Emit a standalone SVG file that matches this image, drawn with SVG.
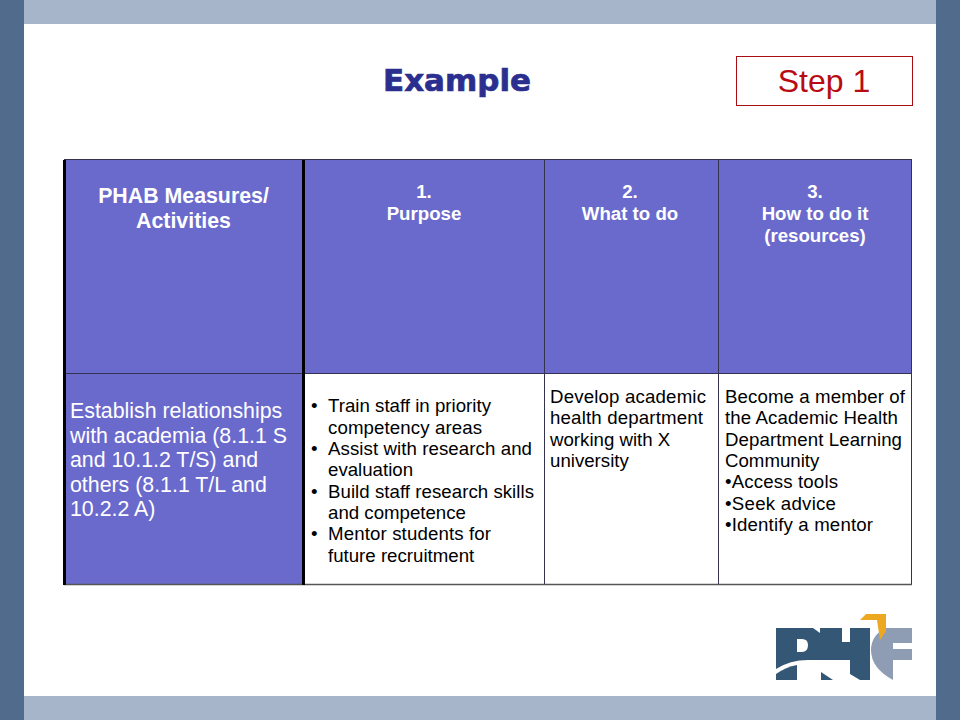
<svg xmlns="http://www.w3.org/2000/svg" width="960" height="720" viewBox="0 0 960 720">
<style>
text{font-family:"Liberation Sans",Arial,sans-serif}
.h{fill:#fff;font-weight:700;font-size:18.67px;text-anchor:middle}
.hl{font-size:21.33px}
.b{fill:#000;font-size:18.67px}
.s{fill:#fff;font-size:21.33px}
.g{stroke:#33334f;stroke-width:1;fill:none}
</style>
<rect width="960" height="720" fill="#fff"/>
<rect x="24" width="912" height="24" fill="#a6b5ca"/>
<rect x="24" y="696" width="912" height="24" fill="#a6b5ca"/>
<rect width="24" height="720" fill="#516b8c"/>
<rect x="936" width="24" height="720" fill="#516b8c"/>
<text x="383" y="90.500" textLength="148" lengthAdjust="spacingAndGlyphs" stroke="#2a2f8f" stroke-width="0.7" style="font-family:'DejaVu Sans',sans-serif;font-weight:700;font-size:30px" fill="#2a2f8f">Example</text>
<g id="step"><rect x="736.500" y="56.500" width="176" height="49" fill="#fff" stroke="#a80f14"/>
<text x="824" y="92" text-anchor="middle" font-size="32" fill="#b80c12">Step 1</text></g>
<g id="table">
<rect x="64" y="160" width="848" height="214" fill="#6a6acd"/>
<rect x="64" y="374" width="240" height="210" fill="#6a6acd"/>
<path class="g" d="M64 159.500H912M64 373.500H912M544.500 160V584M718.500 160V584M911.500 160V584"/>
<path d="M64 584.500H912" stroke="#555" stroke-width="1.500" fill="none"/>
<path d="M64.500 160V585M303.500 160V585" stroke="#000" stroke-width="3" fill="none"/>
<text class="h hl" x="183.500" y="203">PHAB Measures/</text>
<text class="h hl" x="183.500" y="228">Activities</text>
<text class="h" x="424" y="198">1.</text><text class="h" x="424" y="220">Purpose</text>
<text class="h" x="630" y="198">2.</text><text class="h" x="630" y="220">What to do</text>
<text class="h" x="815" y="198">3.</text><text class="h" x="815" y="220">How to do it</text><text class="h" x="815" y="242">(resources)</text>
<text class="s" x="70" y="418">Establish relationships</text>
<text class="s" x="70" y="442.500">with academia (8.1.1 S</text>
<text class="s" x="70" y="467">and 10.1.2 T/S) and</text>
<text class="s" x="70" y="491.500">others (8.1.1 T/L and</text>
<text class="s" x="70" y="516">10.2.2 A)</text>
<text class="b" x="311" y="412">•</text><text class="b" x="328" y="412" textLength="163" lengthAdjust="spacing">Train staff in priority</text>
<text class="b" x="328" y="434" textLength="154" lengthAdjust="spacing">competency areas</text>
<text class="b" x="311" y="455">•</text><text class="b" x="328" y="455" textLength="204" lengthAdjust="spacing">Assist with research and</text>
<text class="b" x="328" y="476">evaluation</text>
<text class="b" x="311" y="498">•</text><text class="b" x="328" y="498" textLength="206" lengthAdjust="spacing">Build staff research skills</text>
<text class="b" x="328" y="519">and competence</text>
<text class="b" x="311" y="540">•</text><text class="b" x="328" y="540" textLength="163" lengthAdjust="spacing">Mentor students for</text>
<text class="b" x="328" y="562">future recruitment</text>
<text class="b" x="550" y="403" textLength="156" lengthAdjust="spacing">Develop academic</text>
<text class="b" x="550" y="424" textLength="153" lengthAdjust="spacing">health department</text>
<text class="b" x="550" y="446">working with X</text>
<text class="b" x="550" y="467">university</text>
<text class="b" x="725" y="403" textLength="180" lengthAdjust="spacing">Become a member of</text>
<text class="b" x="725" y="424" textLength="173" lengthAdjust="spacing">the Academic Health</text>
<text class="b" x="725" y="446" textLength="177" lengthAdjust="spacing">Department Learning</text>
<text class="b" x="725" y="467">Community</text>
<text class="b" x="725" y="488" textLength="113" lengthAdjust="spacing">•Access tools</text>
<text class="b" x="725" y="510" textLength="111" lengthAdjust="spacing">•Seek advice</text>
<text class="b" x="725" y="531" textLength="148" lengthAdjust="spacing">•Identify a mentor</text>
</g>
<g id="logo">
<path fill-rule="evenodd" d="M776 628H813L820 633V628H842V642H850V628H870V680H860L850 674V660H808Q790 660 776 669ZM797 639V652H802Q808 652 808 645Q808 639 802 639Z" fill="#335775"/>
<path d="M776 680V674Q786 667 797 665V680Z" fill="#335775"/>
<path d="M821 672L833 680H821Z" fill="#335775"/>
<path d="M885 628H912V643H893V649H912V660H893V680Q871 668 871 650Q871 636 885 628Z" fill="#8f9db4"/>
<path d="M860 620L866 614H886V631L880 640L877 620Z" fill="#eba820"/>
</g>
</svg>
